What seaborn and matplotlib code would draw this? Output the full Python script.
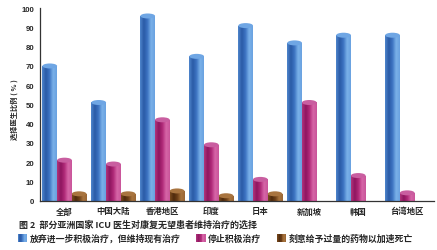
import numpy as np
import pandas as pd
import matplotlib
matplotlib.use("Agg")
import matplotlib.pyplot as plt
from matplotlib.colors import LinearSegmentedColormap
from matplotlib.patches import Ellipse, Rectangle
from matplotlib.legend_handler import HandlerBase
import seaborn as sns

categories = ["全部", "中国大陆", "香港地区", "印度", "日本", "新加坡", "韩国", "台湾地区"]
series = ["放弃进一步积极治疗，但维持现有治疗", "停止积极治疗", "刻意给予过量的药物以加速死亡"]
withhold = [70, 51, 96, 75, 91, 82, 86, 86]
withdraw = [21, 19, 42, 29, 11, 51, 13, 4]
hasten = [3.5, 3.5, 5, 2.5, 3.5, 0, 0, 0]
yticks = [0, 10, 20, 30, 40, 50, 60, 70, 80, 90, 100]
title = "图 2  部分亚洲国家 ICU 医生对康复无望患者维持治疗的选择"
ylabel = "选择医生比例 ( % )"

sns.set_style("white")
plt.rcParams["font.family"] = ["Liberation Sans", "Noto Sans CJK SC", "DejaVu Sans"]
CJK = ["Noto Sans CJK SC", "DejaVu Sans"]

df = pd.DataFrame({
    "category": categories * 3,
    "series": [series[0]] * 8 + [series[1]] * 8 + [series[2]] * 8,
    "value": withhold + withdraw + hasten,
})

mid_colors = ["#4a84cc", "#c2368a", "#8a5527"]
grad_stops = [
    ["#4f86cc", "#2a5aa6", "#3d74c2", "#7ab1e9", "#6aa2e0"],
    ["#b0357c", "#8e1560", "#b02a78", "#d766a8", "#c9559a"],
    ["#7a4a1e", "#4e2a0c", "#6e4018", "#a8743e", "#9a6634"],
]
top_colors = ["#6fa6e4", "#c95ea0", "#a8743f"]
cmaps = [LinearSegmentedColormap.from_list(f"c{i}", g) for i, g in enumerate(grad_stops)]

fig = plt.figure(figsize=(4.37, 2.51), dpi=100)
ax = fig.add_axes([0.0915, 0.197, 0.902, 0.766])

sns.barplot(data=df, x="category", y="value", hue="series", order=categories,
            hue_order=series, palette=mid_colors, width=0.9, ax=ax,
            legend=False, errorbar=None, saturation=1)

px_per_unit = (0.766 * 251) / 100.0
ell_h = 5.0 / px_per_unit

for si, cont in enumerate(ax.containers):
    grad = np.linspace(0, 1, 64).reshape(1, -1)
    for rect in cont:
        h = rect.get_height()
        if h <= 0:
            rect.set_visible(False)
            continue
        x0 = rect.get_x()
        w = rect.get_width()
        rect.set_facecolor("none")
        rect.set_edgecolor("none")
        im = ax.imshow(grad, extent=[x0, x0 + w, 0, h], aspect="auto",
                       cmap=cmaps[si], zorder=2, interpolation="bilinear")
        im.set_clip_path(rect)
        ax.add_patch(Ellipse((x0 + w / 2, h), w, ell_h, facecolor=top_colors[si],
                             edgecolor="none", zorder=3))

ax.set_xlim(-0.5, 7.55)
ax.set_ylim(0, 100)
ax.set_yticks(yticks)
ax.set_yticklabels([str(t) for t in yticks], fontsize=5.6, fontweight="bold")
ax.set_xticks(range(len(categories)))
ax.set_xticklabels(categories, fontsize=6.0, fontweight="bold", family=CJK)
for lab in ax.get_xticklabels():
    lab.set_verticalalignment("baseline")
ax.tick_params(axis="x", which="major", length=0, pad=9.3)
ax.set_xticks(np.arange(0.5, 7.0, 1.0), minor=True)
ax.tick_params(axis="x", which="minor", direction="in", length=5, width=0.9, color="#222222")
ax.tick_params(axis="y", direction="out", length=3, width=0.8, color="#222222", pad=1)
ax.set_xlabel("")
ax.set_ylabel(ylabel, fontsize=5.2, fontweight="bold", family=CJK)
ax.yaxis.set_label_coords(-0.057, 0.477)
for s in ["top", "right"]:
    ax.spines[s].set_visible(False)
for s in ["left", "bottom"]:
    ax.spines[s].set_color("#333333")
    ax.spines[s].set_linewidth(0.9)

fig.text(0.043, 0.104, title, fontsize=6.5, fontweight="bold",
         family=CJK, va="center", ha="left")


class GradHandler(HandlerBase):
    def __init__(self, cmap):
        super().__init__()
        self.cmap = cmap

    def create_artists(self, legend, orig_handle, xdescent, ydescent, width, height,
                       fontsize, trans):
        n = 12
        arts = []
        for k in range(n):
            r = Rectangle((-xdescent + width * k / n, -ydescent), width / n + 0.3, height,
                          facecolor=self.cmap((k + 0.5) / n), edgecolor="none",
                          transform=trans)
            arts.append(r)
        return arts


handles = [Rectangle((0, 0), 1, 1, facecolor=mid_colors[i]) for i in range(3)]
fig.legend(handles, series, loc="center left", bbox_to_anchor=(0.041, 0.048), ncol=3,
           frameon=False, handlelength=1.0, handleheight=1.0, handletextpad=0.3,
           columnspacing=1.8, borderpad=0, borderaxespad=0,
           handler_map={handles[i]: GradHandler(cmaps[i]) for i in range(3)},
           prop={"family": CJK, "size": 6.4, "weight": "bold"})

fig.savefig("out.png", dpi=100)
